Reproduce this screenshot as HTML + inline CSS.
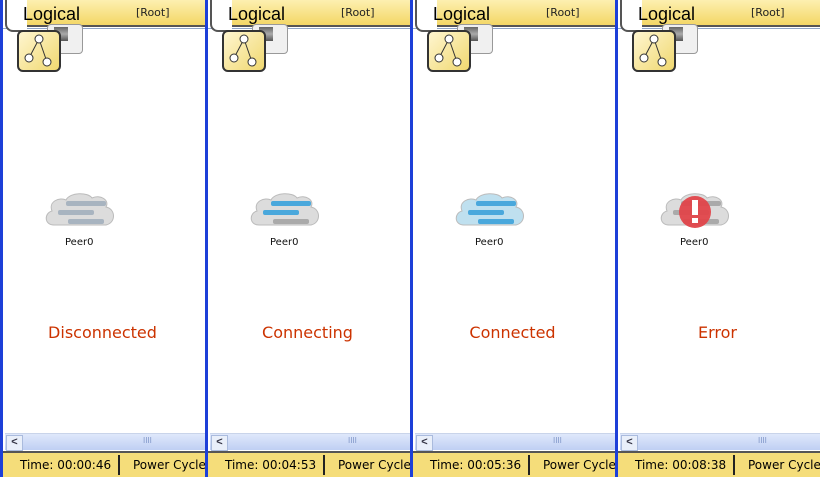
<!DOCTYPE html><html><head><style>
body{margin:0;width:820px;height:477px;overflow:hidden;background:#fff;font-family:"Liberation Sans",sans-serif;position:relative}
.p{position:absolute;top:0;width:205px;height:477px;overflow:hidden}
.bl{position:absolute;left:0;top:0;width:3px;height:477px;background:#1d3fd8}
.hd{position:absolute;left:8px;top:0;width:205px;height:25px;background:linear-gradient(#fdf0b0,#f3d766);border-bottom:2px solid #555}
.ln{position:absolute;left:3px;top:28px;width:205px;height:1px;background:#8fa6c8}
.tab{position:absolute;left:5px;top:-6px;width:16px;height:38px;background:#fff;border:2px solid #444;border-left:none;border-radius:0 0 8px 0;display:none}
.tabl{position:absolute;left:5px;top:-8px;width:20px;height:38px;background:#fff;border:2px solid #555;border-top:none;border-right:none;border-radius:0 0 0 8px}
.lg{position:absolute;left:23px;top:4px;font-size:18px;color:#000}
.rt{position:absolute;left:136px;top:6px;font-size:11px;font-family:"DejaVu Sans",sans-serif;color:#222}
.ic2{position:absolute;left:47px;top:24px;width:34px;height:28px;background:#f0f0f0;border:1px solid #999;border-radius:4px}
.ic2 i{position:absolute;left:6px;top:2px;width:14px;height:14px;background:linear-gradient(#666,#aaa,#555)}
.ic{position:absolute;left:17px;top:30px;width:40px;height:38px;background:linear-gradient(135deg,#fff6d0,#f0d870);border:2px solid #333;border-radius:6px}
.cl{position:absolute;left:44px;top:191px;width:72px;height:40px}
.pl{position:absolute;left:65px;top:237px;font-size:10px;font-family:"DejaVu Sans",sans-serif;color:#111;width:40px}
.st{position:absolute;top:323px;width:205px;text-align:center;font-size:16px;font-family:"DejaVu Sans",sans-serif;color:#cc3300;left:0}
.sb{position:absolute;left:5px;top:433px;width:203px;height:16px;background:linear-gradient(#dfe8fb,#bfcff3);border-top:1px solid #c9d4ea}
.sb b{position:absolute;left:1px;top:1px;width:15px;height:14px;background:#e9effa;border:1px solid #aabbdd;color:#334;font-size:11px;text-align:center;line-height:13px}
.ft{position:absolute;left:3px;top:451px;width:205px;height:26px;background:#f5dd7a;border-top:2px solid #555;font-size:12px;font-family:"DejaVu Sans",sans-serif}
.ft .t{position:absolute;left:17px;top:5px}
.ft .s{position:absolute;left:115px;top:2px;width:2px;height:20px;background:#222}
.ft .pc{position:absolute;left:130px;top:5px;white-space:nowrap}
</style></head><body>
<div id="w"></div>
<script>
var labels=["Disconnected","Connecting","Connected","Error"],times=["00:00:46","00:04:53","00:05:36","00:08:38"],xs=[0,205,410,615];
var h="";
for(var k=0;k<4;k++){
var bars=[["#a8b4c0","#a8b4c0","#a8b4c0"],["#4aa8dc","#4aa8dc","#aaa"],["#4aa8dc","#4aa8dc","#4aa8dc"],["#aaa","#aaa","#aaa"]][k];
var cf=k==2?"#bfe0ef":"#dcdcdc";
var svg='<svg class="cl" viewBox="0 0 72 40"><path d="M10 34 C0 34 0 22 8 20 C4 10 16 6 22 9 C26 1 44 1 48 7 C56 3 66 9 62 16 C72 18 72 32 62 34 Z" fill="'+cf+'" stroke="#bbb"/>'+
'<rect x="22" y="10" width="40" height="5" rx="2" fill="'+bars[0]+'"/><rect x="14" y="19" width="36" height="5" rx="2" fill="'+bars[1]+'"/><rect x="24" y="28" width="36" height="5" rx="2" fill="'+bars[2]+'"/>'+
(k==3?'<circle cx="36" cy="21" r="16" fill="#e0454a" opacity=".95"/><rect x="33" y="9" width="6" height="15" fill="#fff"/><rect x="33" y="27" width="6" height="5" fill="#fff"/>':'')+'</svg>';
h+='<div class="p" style="left:'+xs[k]+'px"><div class="bl"></div><div class="hd"></div><div class="ln"></div><div class="tabl"></div><div class="lg">Logical</div><div class="rt">[Root]</div><div class="ic2"><i></i></div><div class="ic"><svg width="40" height="38"><line x1="20" y1="7" x2="10" y2="26" stroke="#333"/><line x1="20" y1="7" x2="28" y2="30" stroke="#333"/><circle cx="20" cy="7" r="4" fill="#fff" stroke="#333"/><circle cx="10" cy="26" r="4" fill="#fff" stroke="#333"/><circle cx="28" cy="30" r="4" fill="#fff" stroke="#333"/></svg></div>'+svg+'<div class="pl">Peer0</div><div class="st">'+labels[k]+'</div><div class="sb"><b>&lt;</b><span style="position:absolute;left:138px;top:2px;font-size:8px;color:#7f96c8">IIII</span></div><div class="ft"><span class="t">Time: '+times[k]+'</span><div class="s"></div><span class="pc">Power Cycle</span></div></div>';
}
document.getElementById("w").innerHTML=h;
</script></body></html>
